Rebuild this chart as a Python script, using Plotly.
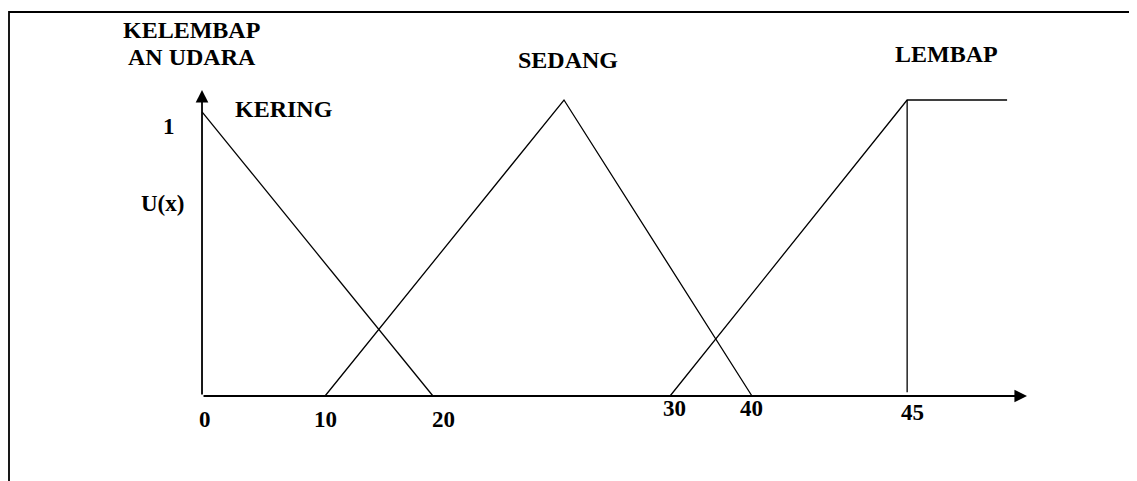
import plotly.graph_objects as go

# ---- data (in the drawing's own horizontal units) ----
kering_x = [0, 14.72]
kering_y = [0.96, 0]
sedang_x = [7.84, 23.07, 35.05]
sedang_y = [0, 1, 0]
lembap_x = [29.83, 44.94, 51.31]
lembap_y = [0, 1, 1]
lembap_drop_x = [44.94, 44.94]
lembap_drop_y = [1, 0.013]

x_tick_labels = ["0", "10", "20", "30", "40", "45"]
x_tick_pos = [0.19, 7.84, 15.42, 30.09, 35.05, 45.26]
x_tick_lab_y = [-0.078, -0.078, -0.078, -0.041, -0.041, -0.057]

y_tick_labels = ["1", "U(x)"]
y_tick_pos_y = [0.912, 0.652]
y_tick_pos_x = [-2.1, -2.49]

set_names = ["KERING", "SEDANG", "LEMBAP"]
set_label_x = [5.2, 23.33, 47.48]
set_label_y = [0.971, 1.135, 1.155]

title_lines = ["KELEMBAP", "AN UDARA"]
title_x = [-0.64, -0.64]
title_y = [1.236, 1.145]

# the page body adds an 8px offset, so the figure covers the drawing from px 8
X_RANGE = [-12.365, 59.59]
Y_RANGE = [-0.2872, 1.3108]
X_ARROW_END = 52.58
Y_ARROW_END = 1.034

FONT = "Liberation Serif"
LINE = dict(color="black", width=1.3)
W, H = 1129, 473

fig = go.Figure()
for xs, ys in [(kering_x, kering_y), (sedang_x, sedang_y),
               (lembap_x, lembap_y), (lembap_drop_x, lembap_drop_y)]:
    fig.add_trace(go.Scatter(x=xs, y=ys, mode="lines", line=LINE,
                             hoverinfo="skip", showlegend=False))

ann = []
# axes with arrows
ann.append(dict(x=X_ARROW_END, y=0, ax=0, ay=0, xref="x", yref="y",
                axref="x", ayref="y", text="", showarrow=True,
                arrowhead=2, arrowsize=1.4, arrowwidth=1.8, arrowcolor="black"))
ann.append(dict(x=0, y=Y_ARROW_END, ax=0, ay=0, xref="x", yref="y",
                axref="x", ayref="y", text="", showarrow=True,
                arrowhead=2, arrowsize=1.4, arrowwidth=1.8, arrowcolor="black"))

numfont = dict(family=FONT, size=23, color="black", weight="bold")
txtfont = dict(family=FONT, size=24, color="black", weight="bold")
for t, x, y in zip(x_tick_labels, x_tick_pos, x_tick_lab_y):
    ann.append(dict(x=x, y=y, text=t, showarrow=False, font=numfont,
                    xanchor="center", yanchor="middle"))
for t, x, y in zip(y_tick_labels, y_tick_pos_x, y_tick_pos_y):
    ann.append(dict(x=x, y=y, text=t, showarrow=False, font=numfont,
                    xanchor="center", yanchor="middle"))
for t, x, y in zip(set_names, set_label_x, set_label_y):
    ann.append(dict(x=x, y=y, text=t, showarrow=False, font=txtfont,
                    xanchor="center", yanchor="middle"))
for t, x, y in zip(title_lines, title_x, title_y):
    ann.append(dict(x=x, y=y, text=t, showarrow=False, font=txtfont,
                    xanchor="center", yanchor="middle"))

fig.update_layout(
    width=W, height=H,
    margin=dict(l=0, r=0, t=0, b=0),
    paper_bgcolor="white", plot_bgcolor="white",
    xaxis=dict(range=X_RANGE, visible=False, fixedrange=True),
    yaxis=dict(range=Y_RANGE, visible=False, fixedrange=True),
    annotations=ann,
    shapes=[dict(type="rect", xref="paper", yref="paper",
                 x0=1 / W, x1=1.02, y0=-0.02, y1=1 - 4 / H,
                 line=dict(color="black", width=1.8))],
    showlegend=False,
)

fig.write_html("out.html")
